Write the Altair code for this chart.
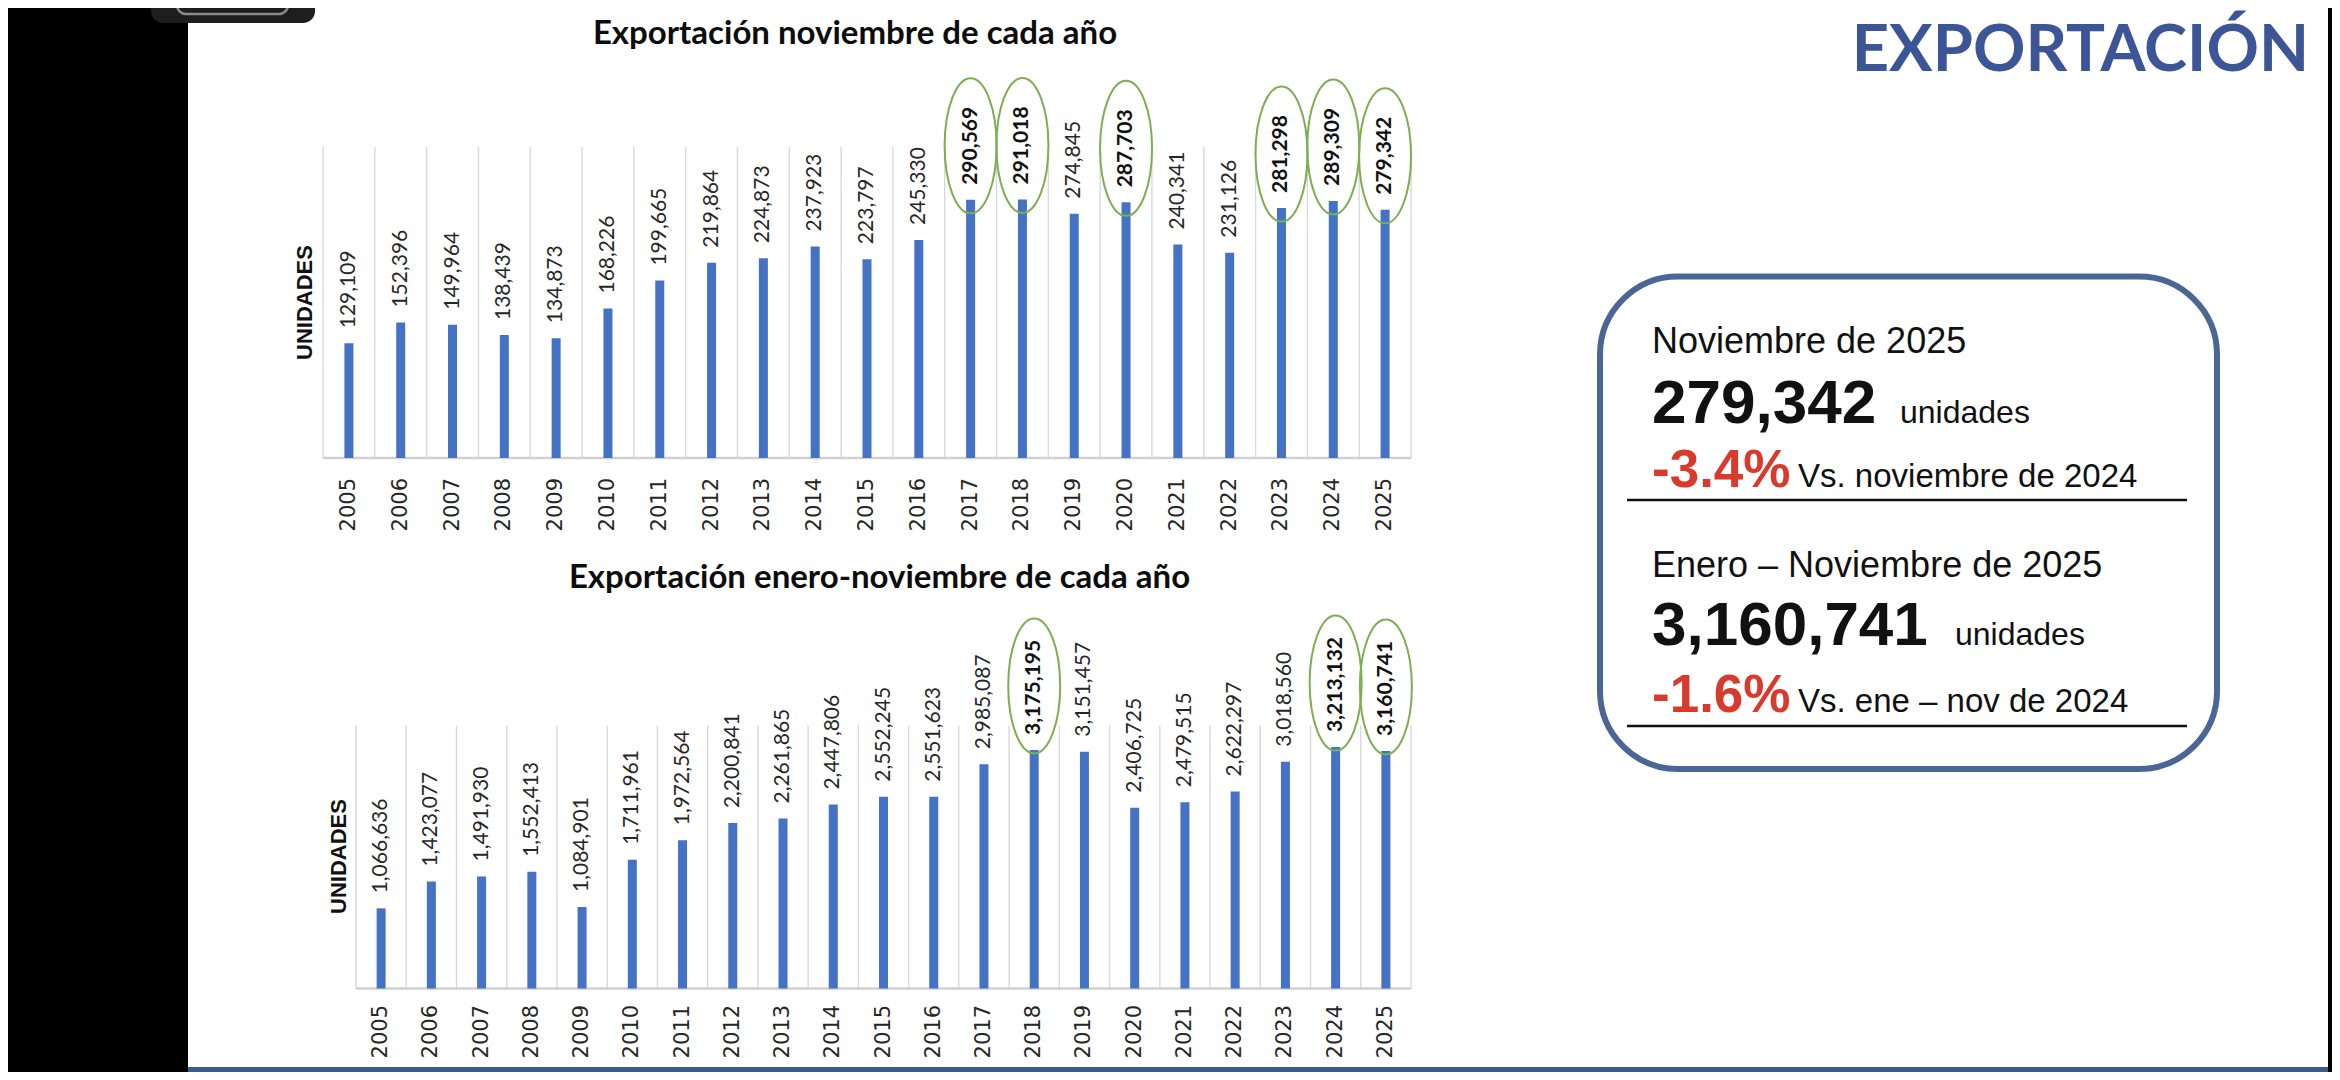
import altair as alt
import pandas as pd

# ---------------- data ----------------
years = [str(y) for y in range(2005, 2026)]
nov_units = [129109, 152396, 149964, 138439, 134873, 168226, 199665, 219864,
             224873, 237923, 223797, 245330, 290569, 291018, 274845, 287703,
             240341, 231126, 281298, 289309, 279342]
ytd_units = [1066636, 1423077, 1491930, 1552413, 1084901, 1711961, 1972564,
             2200841, 2261865, 2447806, 2552245, 2551623, 2985087, 3175195,
             3151457, 2406725, 2479515, 2622297, 3018560, 3213132, 3160741]
nov_highlight = ["2017", "2018", "2020", "2023", "2024", "2025"]
ytd_highlight = ["2018", "2024", "2025"]

title_top = "Exportación noviembre de cada año"
title_bottom = "Exportación enero-noviembre de cada año"
axis_title = "UNIDADES"
slide_title = "EXPORTACIÓN"
box_head1 = "Noviembre de 2025"
box_head2 = "Enero – Noviembre de 2025"
box_unit = "unidades"
box_vs1 = "Vs. noviembre de 2024"
box_vs2 = "Vs. ene – nov de 2024"


def frame(vals, hl):
    return pd.DataFrame({
        "year": years,
        "value": vals,
        "label": [f"{v:,}" for v in vals],
        "hl": [y in hl for y in years],
    })


df_nov = frame(nov_units, nov_highlight)
df_ytd = frame(ytd_units, ytd_highlight)
ONE = pd.DataFrame({"k": [0]})

BAR = "#4472C4"
GRID = "#d9d9d9"
GREEN = "#7DAE52"
TXT = "#262626"
ELLIPSE = "M 0 -1 A 0.385 1 0 1 1 0 1 A 0.385 1 0 1 1 0 -1 Z"


def panel(df, xr, yr, ymax, ell_off, year_y):
    xs = alt.Scale(type="band", domain=years, range=xr, paddingInner=0, paddingOuter=0)
    ys = alt.Scale(type="linear", domain=[0, ymax], range=yr, nice=False, zero=True)

    def X(**kw):
        return alt.X("year:N", scale=xs, axis=None, **kw)

    Y = alt.Y("value:Q", scale=ys, axis=None)

    grid = alt.Chart(df).mark_rule(color=GRID, strokeWidth=1.4).encode(
        x=X(bandPosition=0), y=alt.value(yr[1]), y2=alt.value(yr[0]))
    grid_end = alt.Chart(df.tail(1)).mark_rule(color=GRID, strokeWidth=1.4).encode(
        x=X(bandPosition=1), y=alt.value(yr[1]), y2=alt.value(yr[0]))
    base = alt.Chart(ONE).mark_rule(color="#d0d0d0", strokeWidth=2.5).encode(
        x=alt.value(xr[0]), x2=alt.value(xr[1]), y=alt.value(yr[0]))
    bars = alt.Chart(df).mark_bar(width=9, color=BAR).encode(x=X(), y=Y)
    ell = alt.Chart(df[df.hl]).mark_point(
        shape=ELLIPSE, size=18225, filled=False, color=GREEN, strokeWidth=2,
        opacity=1, yOffset=-ell_off).encode(x=X(), y=Y)
    lab = alt.Chart(df[~df.hl]).mark_text(
        angle=270, align="left", baseline="middle", font="Lato", fontSize=21,
        color=TXT, yOffset=-15).encode(x=X(), y=Y, text="label:N")
    lab_b = alt.Chart(df[df.hl]).mark_text(
        angle=270, align="left", baseline="middle", font="Lato", fontSize=21,
        fontWeight="bold", color="#111111", yOffset=-15).encode(x=X(), y=Y, text="label:N")
    yrs = alt.Chart(df).mark_text(
        angle=270, align="right", baseline="middle", font="DejaVu Sans",
        fontSize=21, color=TXT).encode(x=X(), y=alt.value(year_y), text="year:N")
    return alt.layer(grid, grid_end, base, bars, ell, lab, lab_b, yrs)


def txt(s, x, y, size, weight="normal", color="#111111", font="Liberation Sans",
        align="left", baseline="alphabetic", angle=0):
    return alt.Chart(ONE).mark_text(
        text=s, font=font, fontSize=size, fontWeight=weight, color=color,
        align=align, baseline=baseline, angle=angle).encode(
        x=alt.value(x), y=alt.value(y))


def rect(x, x2, y, y2, **kw):
    return alt.Chart(ONE).mark_rect(**kw).encode(
        x=alt.value(x), x2=alt.value(x2), y=alt.value(y), y2=alt.value(y2))


def hline(x, x2, y, color="#111111", w=2.5):
    return alt.Chart(ONE).mark_rule(color=color, strokeWidth=w).encode(
        x=alt.value(x), x2=alt.value(x2), y=alt.value(y))


top = panel(df_nov, [315, 1403], [450, 139], 350000, 54, 470)
bottom = panel(df_ytd, [348, 1403], [980.5, 717.5], 3500000, 64, 997)

pct_nov = (nov_units[-1] / nov_units[-2] - 1) * 100
pct_ytd = (ytd_units[-1] / ytd_units[-2] - 1) * 100

decor = [
    rect(0, 180, 0, 1064, color="#000000"),
    rect(2320, 2324, 0, 1064, color="#000000"),
    rect(143, 307, -30, 15, color="#1e1e1e", cornerRadius=12),
    rect(169, 280, -30, 6, filled=False, stroke="#8a8a8a", strokeWidth=2.5, cornerRadius=9),
    rect(180, 2320, 1059, 1064, color="#3B5B8E"),
]

texts = [
    txt(title_top, 847, 26, 33, "bold", "#0d0d0d", "Lato", "center", "middle"),
    txt(title_bottom, 871.5, 570, 33, "bold", "#0d0d0d", "Lato", "center", "middle"),
    txt(axis_title, 297, 294.5, 22, "bold", "#111111", "Liberation Sans", "center", "middle", 270),
    txt(axis_title, 330.5, 848.5, 22, "bold", "#111111", "Liberation Sans", "center", "middle", 270),
    txt(slide_title, 2301, 63, 65, "bold", "#3C5596", "Lato", "right"),
]

box = [
    rect(1592, 2209, 268.5, 761, fill="white", stroke="#4A6695", strokeWidth=6, cornerRadius=78),
    txt(box_head1, 1644, 345, 36),
    txt(f"{nov_units[-1]:,}", 1644, 415, 62, "bold"),
    txt(box_unit, 1892, 415, 32),
    txt(f"{pct_nov:.1f}%", 1644, 479, 53, "bold", "#D93A2E"),
    txt(box_vs1, 1790, 479, 33),
    hline(1619, 2179, 492),
    txt(box_head2, 1644, 569, 36),
    txt(f"{ytd_units[-1]:,}", 1644, 637, 62, "bold"),
    txt(box_unit, 1947, 637, 32),
    txt(f"{pct_ytd:.1f}%", 1644, 704, 53, "bold", "#D93A2E"),
    txt(box_vs2, 1790, 704, 33),
    hline(1619, 2179, 718),
]

chart = alt.layer(*decor, top, bottom, *texts, *box).resolve_scale(
    x="independent", y="independent"
).properties(
    width=2324, height=1064, autosize="none", padding=0, background="white"
).configure_view(stroke=None)

chart.save("out.html", embed_options={"renderer": "svg", "actions": False})
